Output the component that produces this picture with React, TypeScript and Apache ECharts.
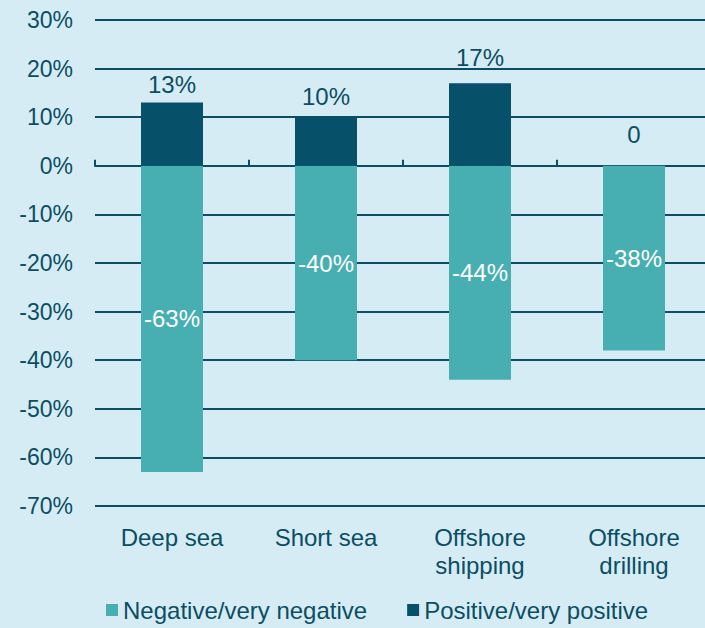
import React, { useEffect, useRef } from "react";
import * as echarts from "echarts";

const categories = ["Deep sea", "Short sea", "Offshore\nshipping", "Offshore\ndrilling"];
const negativeValues = [-63, -40, -44, -38];
const positiveValues = [13, 10, 17, 0];
const yTicks = [30, 20, 10, 0, -10, -20, -30, -40, -50, -60, -70];
// extra vertical offset of each positive value label (as placed in the source)
const positiveLabelOffsets = [0, -3, -8, -13];

const DARK = "#06506a";
const LIGHT = "#47afb2";
const TEXT = "#0b4e63";
const FONT = "Liberation Sans, Arial, sans-serif";

export default function App() {
  const ref = useRef<HTMLDivElement>(null);
  useEffect(() => {
    document.body.style.margin = "0";
    const chart = echarts.init(ref.current!, undefined, { renderer: "svg" });
    chart.setOption({
      animation: false,
      backgroundColor: "#d6ecf5",
      textStyle: { fontFamily: FONT },
      grid: {
        left: 95,
        width: 616,
        top: 20,
        bottom: 122,
        containLabel: false,
        outerBoundsMode: "none",
      },
      legend: {
        bottom: 1,
        left: 101,
        itemWidth: 12,
        itemHeight: 12,
        itemGap: 40,
        icon: "rect",
        textStyle: { color: TEXT, fontSize: 24, fontFamily: FONT },
        data: ["Negative/very negative", "Positive/very positive"],
      },
      xAxis: [
        {
          type: "category",
          data: categories,
          position: "bottom",
          axisLine: { show: false, onZero: false },
          axisTick: { show: false },
          axisLabel: { color: TEXT, fontSize: 24, margin: 17, lineHeight: 28, fontFamily: FONT },
        },
        {
          type: "category",
          data: categories,
          position: "top",
          axisLine: { show: true, onZero: true, lineStyle: { color: TEXT, width: 2 } },
          axisTick: { show: true, inside: false, length: 6, lineStyle: { color: TEXT, width: 2 } },
          axisLabel: { show: false },
        },
      ],
      yAxis: {
        type: "value",
        min: yTicks[yTicks.length - 1],
        max: yTicks[0],
        interval: 10,
        axisLine: { show: false },
        axisTick: { show: false },
        splitLine: { lineStyle: { color: TEXT, width: 2 } },
        axisLabel: {
          color: TEXT,
          fontSize: 23,
          margin: 22,
          fontFamily: FONT,
          formatter: (v: number) => `${v}%`,
        },
      },
      series: [
        {
          name: "Negative/very negative",
          type: "bar",
          xAxisIndex: 0,
          barWidth: 62,
          barGap: "-100%",
          itemStyle: { color: LIGHT },
          label: {
            show: true,
            position: "inside",
            color: "#ffffff",
            fontSize: 24,
            fontFamily: FONT,
            formatter: (p: any) => `${p.value}%`,
          },
          data: negativeValues,
        },
        {
          name: "Positive/very positive",
          type: "bar",
          xAxisIndex: 0,
          barWidth: 62,
          barGap: "-100%",
          itemStyle: { color: DARK },
          label: {
            show: true,
            position: "top",
            distance: 6,
            color: TEXT,
            fontSize: 24,
            fontFamily: FONT,
            formatter: (p: any) => (p.value === 0 ? "0" : `${p.value}%`),
          },
          data: positiveValues.map((v, i) => ({
            value: v,
            label: { offset: [0, positiveLabelOffsets[i]] },
          })),
        },
      ],
    });
    return () => chart.dispose();
  }, []);
  return (
    <div
      ref={ref}
      style={{ position: "absolute", left: 0, top: 0, width: 705, height: 628 }}
    />
  );
}
